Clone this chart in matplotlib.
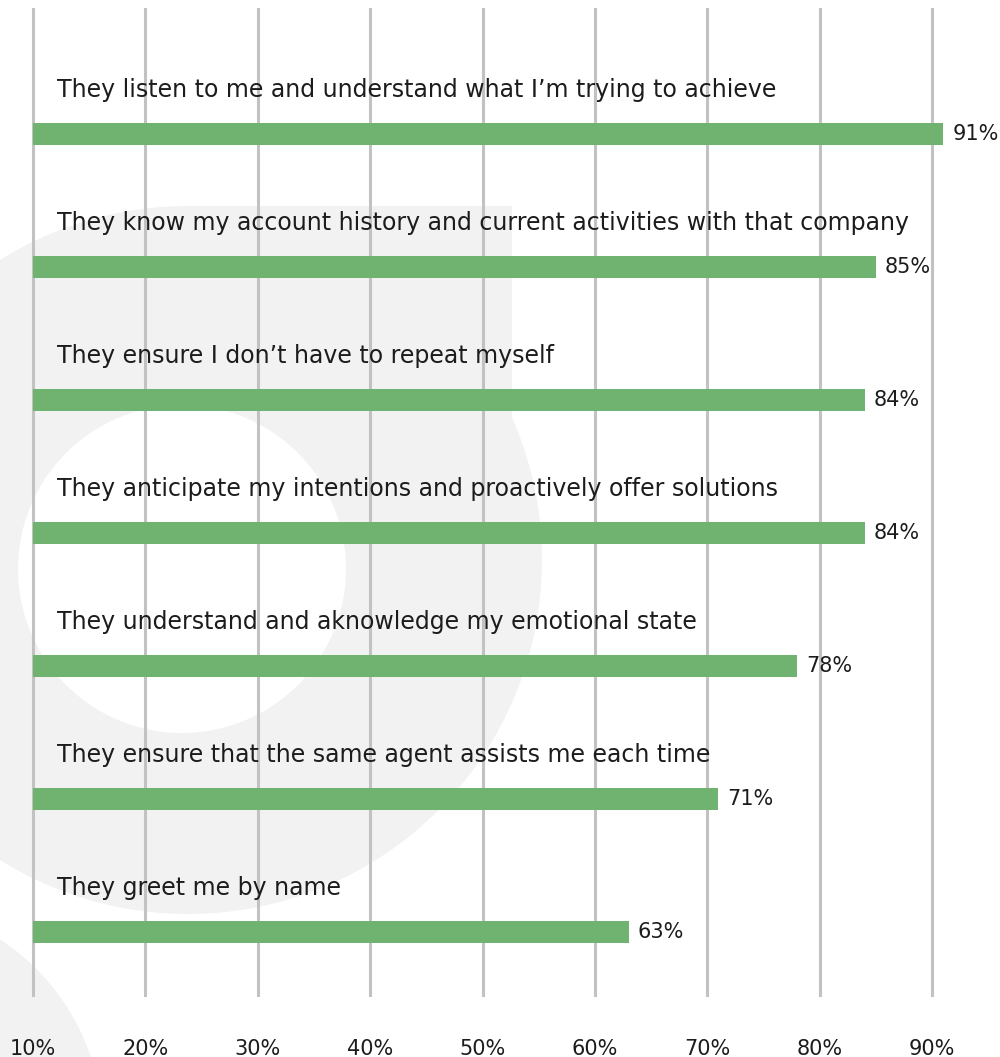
import numpy as np
import matplotlib
matplotlib.use("Agg")
import matplotlib.pyplot as plt
from matplotlib.patches import Circle, Rectangle

plt.rcParams['font.family'] = ['DejaVu Sans']

statements = [
    "They listen to me and understand what I’m trying to achieve",
    "They know my account history and current activities with that company",
    "They ensure I don’t have to repeat myself",
    "They anticipate my intentions and proactively offer solutions",
    "They understand and aknowledge my emotional state",
    "They ensure that the same agent assists me each time",
    "They greet me by name",
]
shares = [91, 85, 84, 84, 78, 71, 63]
ticks = [10, 20, 30, 40, 50, 60, 70, 80, 90]

BAR_GREEN = "#70b270"
GRID_GREY = "#c2c2c2"
SHAPE_GREY = "#f2f2f2"
TEXT = "#1c1c1c"

W, H = 1000, 1057
fig = plt.figure(figsize=(W / 100, H / 100), dpi=100)
fig.patch.set_facecolor("white")

# decorative logo shapes behind the chart, drawn in pixel units
bg = fig.add_axes([0, 0, 1, 1])
bg.set_xlim(0, W)
bg.set_ylim(H, 0)
bg.axis("off")
bg.add_patch(Circle((188, 560), 354, color=SHAPE_GREY, lw=0))
bg.add_patch(Rectangle((188, 206), 324, 354, color=SHAPE_GREY, lw=0))
bg.add_patch(Circle((182, 569), 164, color="white", lw=0))
bg.add_patch(Circle((-125, 1130), 228, color=SHAPE_GREY, lw=0))

# main chart: grid runs from 8px to 997px from the top
ax = fig.add_axes([0, (H - 997) / H, 1, 989 / H])
ax.patch.set_alpha(0)
px_per_pct = 11.2375
x0 = 10 - 33 / px_per_pct
ax.set_xlim(x0, x0 + W / px_per_pct)

row_px = 133
first_px = 134
rows = np.arange(len(shares))
ax.set_ylim((997 - first_px) / row_px, (8 - first_px) / row_px)

ax.barh(rows, np.array(shares) - 10, left=10, height=22 / row_px,
        color=BAR_GREEN, zorder=3)

for i, (txt, v) in enumerate(zip(statements, shares)):
    ax.annotate(txt, xy=(10, i), xytext=(24, 37), textcoords="offset pixels",
                ha="left", va="baseline", fontsize=17, color=TEXT, zorder=4)
    ax.annotate(f"{v}%", xy=(v, i), xytext=(9, 0), textcoords="offset pixels",
                ha="left", va="center", fontsize=15, color=TEXT, zorder=4)

ax.set_xticks(ticks)
ax.set_xticklabels([f"{t}%" for t in ticks], fontsize=15, color=TEXT)
ax.set_yticks([])
ax.tick_params(axis="x", length=0, pad=30)
ax.grid(axis="x", color=GRID_GREY, linewidth=2.2, zorder=1)
ax.set_axisbelow(True)
for s in ax.spines.values():
    s.set_visible(False)

fig.savefig("out.png", dpi=100)
